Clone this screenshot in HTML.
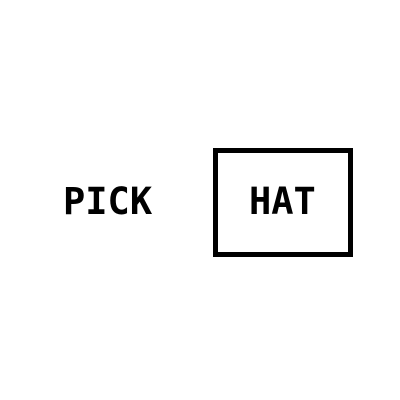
<!DOCTYPE html>
<html><head><meta charset="utf-8"><style>
html,body{margin:0;padding:0;background:#fff;width:400px;height:400px;overflow:hidden}
.t{position:absolute;font-family:"DejaVu Sans Mono","Liberation Mono",monospace;font-weight:bold;font-size:37px;color:#000;line-height:1;white-space:nowrap}
</style></head><body>
<div class="t" style="left:63px;top:183px">PICK</div>
<div style="position:absolute;left:213px;top:148px;width:130px;height:99px;border:5px solid #000"></div>
<div class="t" style="left:249px;top:183px">HAT</div>
</body></html>
